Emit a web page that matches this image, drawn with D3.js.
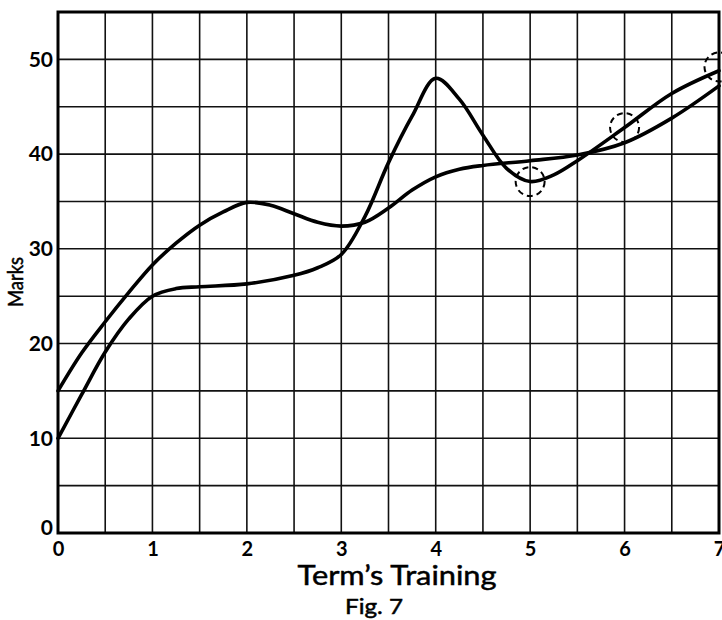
<!DOCTYPE html>
<html>
<head>
<meta charset="utf-8">
<script src="https://cdn.jsdelivr.net/npm/d3@7"></script>
<style>
  html, body { margin: 0; padding: 0; background: #fff; }
  svg { display: block; }
  text { font-family: Lato, "DejaVu Sans", sans-serif; fill: #000; }
</style>
</head>
<body>
<svg id="chart" width="722" height="620"></svg>
<script>
// ---- data ----
const xTicks = [0, 1, 2, 3, 4, 5, 6, 7];
const yTicks = [0, 10, 20, 30, 40, 50];
const xGrid = [0.5, 1, 1.5, 2, 2.5, 3, 3.5, 4, 4.5, 5, 5.5, 6, 6.5];
const yGrid = [5, 10, 15, 20, 25, 30, 35, 40, 45, 50];

const termsA = [0, 0.25, 0.5, 0.75, 1, 1.25, 1.5, 1.75, 2, 2.25, 2.5, 2.75, 3, 3.25, 3.5, 3.75, 4, 4.25, 4.5, 5, 5.5, 6, 6.5, 7];
const marksA = [15, 19.0, 22.3, 25.4, 28.3, 30.6, 32.5, 33.9, 34.9, 34.6, 33.7, 32.8, 32.4, 32.8, 34.3, 36.2, 37.6, 38.4, 38.8, 39.3, 39.9, 41.2, 43.8, 47.2];

const termsB = [0, 0.25, 0.5, 0.75, 1, 1.25, 1.5, 2, 2.5, 2.75, 3, 3.25, 3.5, 3.75, 4, 4.25, 4.5, 4.75, 5, 5.25, 5.5, 6, 6.5, 7];
const marksB = [10, 14.6, 19.1, 22.6, 25.0, 25.8, 26.0, 26.3, 27.2, 28.0, 29.4, 33.4, 39.1, 44.0, 48.0, 45.8, 42.0, 38.5, 37.1, 37.8, 39.3, 42.8, 46.4, 48.8];

const circleTerms = [5, 6, 7];
const circleMarks = [37.1, 42.8, 49.2];

const xLabel = "Term\u2019s Training";
const yLabel = "Marks";
const caption = "Fig. 7";

// ---- layout ----
const svg = d3.select("#chart");
const L = 58, R = 719, T = 12, B = 533;
const x = d3.scaleLinear().domain([0, 7]).range([L, R]);
const y = d3.scaleLinear().domain([0, 55]).range([B, T]);

// grid
svg.append("g").selectAll("line").data(xGrid).join("line")
  .attr("x1", d => x(d)).attr("x2", d => x(d))
  .attr("y1", T).attr("y2", B)
  .attr("stroke", "#111").attr("stroke-width", 1.6);
svg.append("g").selectAll("line").data(yGrid).join("line")
  .attr("x1", L).attr("x2", R)
  .attr("y1", d => y(d)).attr("y2", d => y(d))
  .attr("stroke", "#111").attr("stroke-width", 1.6);

// frame
svg.append("rect")
  .attr("x", L).attr("y", T).attr("width", R - L).attr("height", B - T)
  .attr("fill", "none").attr("stroke", "#000").attr("stroke-width", 3);

// curves
const line = d3.line().curve(d3.curveCatmullRom.alpha(0.5));
const ptsA = termsA.map((t, i) => [x(t), y(marksA[i])]);
const ptsB = termsB.map((t, i) => [x(t), y(marksB[i])]);
[ptsA, ptsB].forEach(p => {
  svg.append("path").attr("d", line(p))
    .attr("fill", "none").attr("stroke", "#000")
    .attr("stroke-width", 3.6).attr("stroke-linejoin", "round").attr("stroke-linecap", "round");
});

// dashed circles
svg.append("g").selectAll("circle").data(circleTerms).join("circle")
  .attr("cx", d => x(d)).attr("cy", (d, i) => y(circleMarks[i]))
  .attr("r", 14.5)
  .attr("fill", "none").attr("stroke", "#000").attr("stroke-width", 2)
  .attr("stroke-dasharray", "6,4");

// axes labels
const xAxis = d3.axisBottom(x).tickValues(xTicks).tickSize(0).tickPadding(9).tickFormat(d3.format("d"));
const gx = svg.append("g").attr("transform", `translate(0,${B})`).call(xAxis);
gx.select(".domain").remove();
gx.selectAll("text").attr("font-size", 20).attr("font-weight", "bold")
  .style("font-family", "Lato, 'DejaVu Sans', sans-serif");

const yAxis = d3.axisLeft(y).tickValues(yTicks).tickSize(0).tickPadding(5).tickFormat(d3.format("d"));
const gy = svg.append("g").attr("transform", `translate(${L},0)`).call(yAxis);
gy.select(".domain").remove();
gy.selectAll("text").attr("font-size", 21).attr("font-weight", "bold")
  .style("font-family", "Lato, 'DejaVu Sans', sans-serif");
gy.selectAll(".tick").filter(d => d === 0).select("text").attr("dy", "0.05em");

svg.append("text")
  .attr("x", 397).attr("y", 585)
  .attr("text-anchor", "middle")
  .attr("font-size", 27)
  .attr("stroke", "#000").attr("stroke-width", 0.5)
  .attr("textLength", 199).attr("lengthAdjust", "spacingAndGlyphs")
  .text(xLabel);

svg.append("text")
  .attr("x", 374).attr("y", 614)
  .attr("text-anchor", "middle")
  .attr("font-size", 22)
  .attr("stroke", "#000").attr("stroke-width", 0.5)
  .attr("textLength", 58).attr("lengthAdjust", "spacingAndGlyphs")
  .text(caption);

svg.append("text")
  .attr("transform", "translate(23,282) rotate(-90)")
  .attr("text-anchor", "middle")
  .attr("font-size", 21)
  .attr("stroke", "#000").attr("stroke-width", 0.5)
  .attr("textLength", 50).attr("lengthAdjust", "spacingAndGlyphs")
  .text(yLabel);
</script>
</body>
</html>
